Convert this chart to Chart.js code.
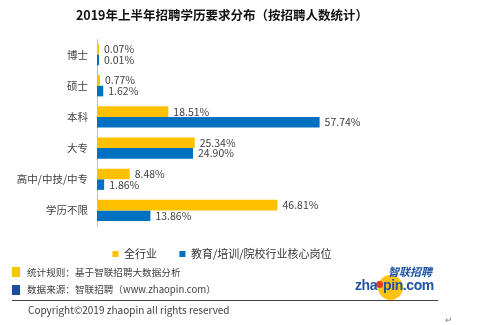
<!DOCTYPE html>
<html>
<head>
<meta charset="utf-8">
<script src="https://cdn.jsdelivr.net/npm/chart.js@4.4.1/dist/chart.umd.min.js"></script>
<style>
  html, body { margin: 0; padding: 0; background: #fff; }
  #wrap { position: relative; width: 500px; height: 325px; overflow: hidden; font-family: "Noto Sans CJK SC", "Noto Sans", sans-serif; }
  #chart { position: absolute; left: 0; top: 0; }
  .abs { position: absolute; white-space: nowrap; }
  .note { font-size: 9.6px; color: #404040; line-height: 12px; }
  .sq { position: absolute; width: 8px; height: 10px; }
  #rule { position: absolute; left: 12px; top: 300px; width: 426px; height: 1px; background: #404040; }
  #copy { font-size: 10px; color: #404040; line-height: 14px; }
  .logo-cn { font-size: 11px; font-weight: bold; font-style: italic; color: #1d55a6; line-height: 12px; }
  .logo-en { font-family: "Liberation Sans", sans-serif; font-size: 14px; font-weight: bold; color: #1d55a6; letter-spacing: -0.4px; line-height: 16px; }
</style>
</head>
<body>
<div id="wrap">
  <canvas id="chart" width="500" height="325"></canvas>

  <!-- footer notes -->
  <div class="sq" style="left:12px; top:267px; background:#f7c600;"></div>
  <div class="abs note" style="left:27px; top:266px;">统计规则：基于智联招聘大数据分析</div>
  <div class="sq" style="left:12px; top:285px; background:#1b4f9e;"></div>
  <div class="abs note" style="left:27px; top:283px;">数据来源：智联招聘（www.zhaopin.com）</div>
  <div id="rule"></div>
  <div id="copy" class="abs" style="left:28px; top:303px;">Copyright©2019 zhaopin all rights reserved</div>
  <div class="abs" style="left:445px; top:313px; font-size:9px; color:#888;">↵</div>

  <!-- zhaopin logo -->
  <div class="abs" style="left:378px; top:275px; width:25px; height:25px; border-radius:50%; background:#ffc20e;"></div>
  <div class="abs" style="left:376px; top:281px; width:7px; height:7px; border-radius:50%; background:#e03a2a;"></div>
  <div class="abs logo-cn" style="left:388px; top:265px;">智联招聘</div>
  <div class="abs logo-en" style="left:355px; top:277px;">zha</div>
  <div class="abs logo-en" style="left:383px; top:277px;">pin.com</div>
</div>

<script>
// Education requirement share, first half of 2019 (by number of hires)
const categories = ['博士', '硕士', '本科', '大专', '高中/中技/中专', '学历不限'];
const seriesNames = ['全行业', '教育/培训/院校行业核心岗位'];
const allIndustry = [0.07, 0.77, 18.51, 25.34, 8.48, 46.81];
const eduCore = [0.01, 1.62, 57.74, 24.90, 1.86, 13.86];

const YELLOW = '#FFC000';
const BLUE = '#0070C0';
const CJK = '"Noto Sans CJK SC", "Noto Sans", sans-serif';

// percentage labels drawn just past each bar end
const valueLabels = {
  id: 'valueLabels',
  afterDatasetsDraw(chart) {
    const ctx = chart.ctx;
    ctx.save();
    ctx.font = '10.5px ' + CJK;
    ctx.fillStyle = '#404040';
    ctx.textAlign = 'left';
    ctx.textBaseline = 'middle';
    chart.data.datasets.forEach((ds, di) => {
      const meta = chart.getDatasetMeta(di);
      meta.data.forEach((bar, i) => {
        ctx.fillText(ds.data[i].toFixed(2) + '%', bar.x + 5, bar.y);
      });
    });
    ctx.restore();
  }
};

new Chart(document.getElementById('chart'), {
  type: 'bar',
  data: {
    labels: categories,
    datasets: [
      { label: seriesNames[0], data: allIndustry, backgroundColor: YELLOW },
      { label: seriesNames[1], data: eduCore, backgroundColor: BLUE }
    ]
  },
  options: {
    indexAxis: 'y',
    responsive: false,
    devicePixelRatio: 1,
    animation: false,
    layout: { padding: { left: 0, right: 56, top: 0, bottom: 55.5 } },
    datasets: {
      bar: { categoryPercentage: 0.68, barPercentage: 1.0, minBarLength: 2 }
    },
    scales: {
      x: { display: false, min: 0, max: 90 },
      y: {
        grid: { display: false, drawTicks: false },
        border: { display: true, color: '#bfbfbf', width: 1 },
        ticks: { color: '#404040', padding: 9, font: { family: CJK, size: 10.5 } },
        afterFit(scale) { scale.width = 97; }
      }
    },
    plugins: {
      title: {
        display: true,
        text: '2019年上半年招聘学历要求分布（按招聘人数统计）',
        color: '#111',
        font: { family: CJK, size: 12.5, weight: 'bold' },
        padding: { top: 8, bottom: 16 }
      },
      legend: {
        position: 'bottom',
        labels: {
          boxWidth: 6,
          boxHeight: 6,
          padding: 22.5,
          color: '#333',
          font: { family: CJK, size: 11 }
        }
      },
      tooltip: { enabled: false }
    }
  },
  plugins: [valueLabels]
});
</script>
</body>
</html>
